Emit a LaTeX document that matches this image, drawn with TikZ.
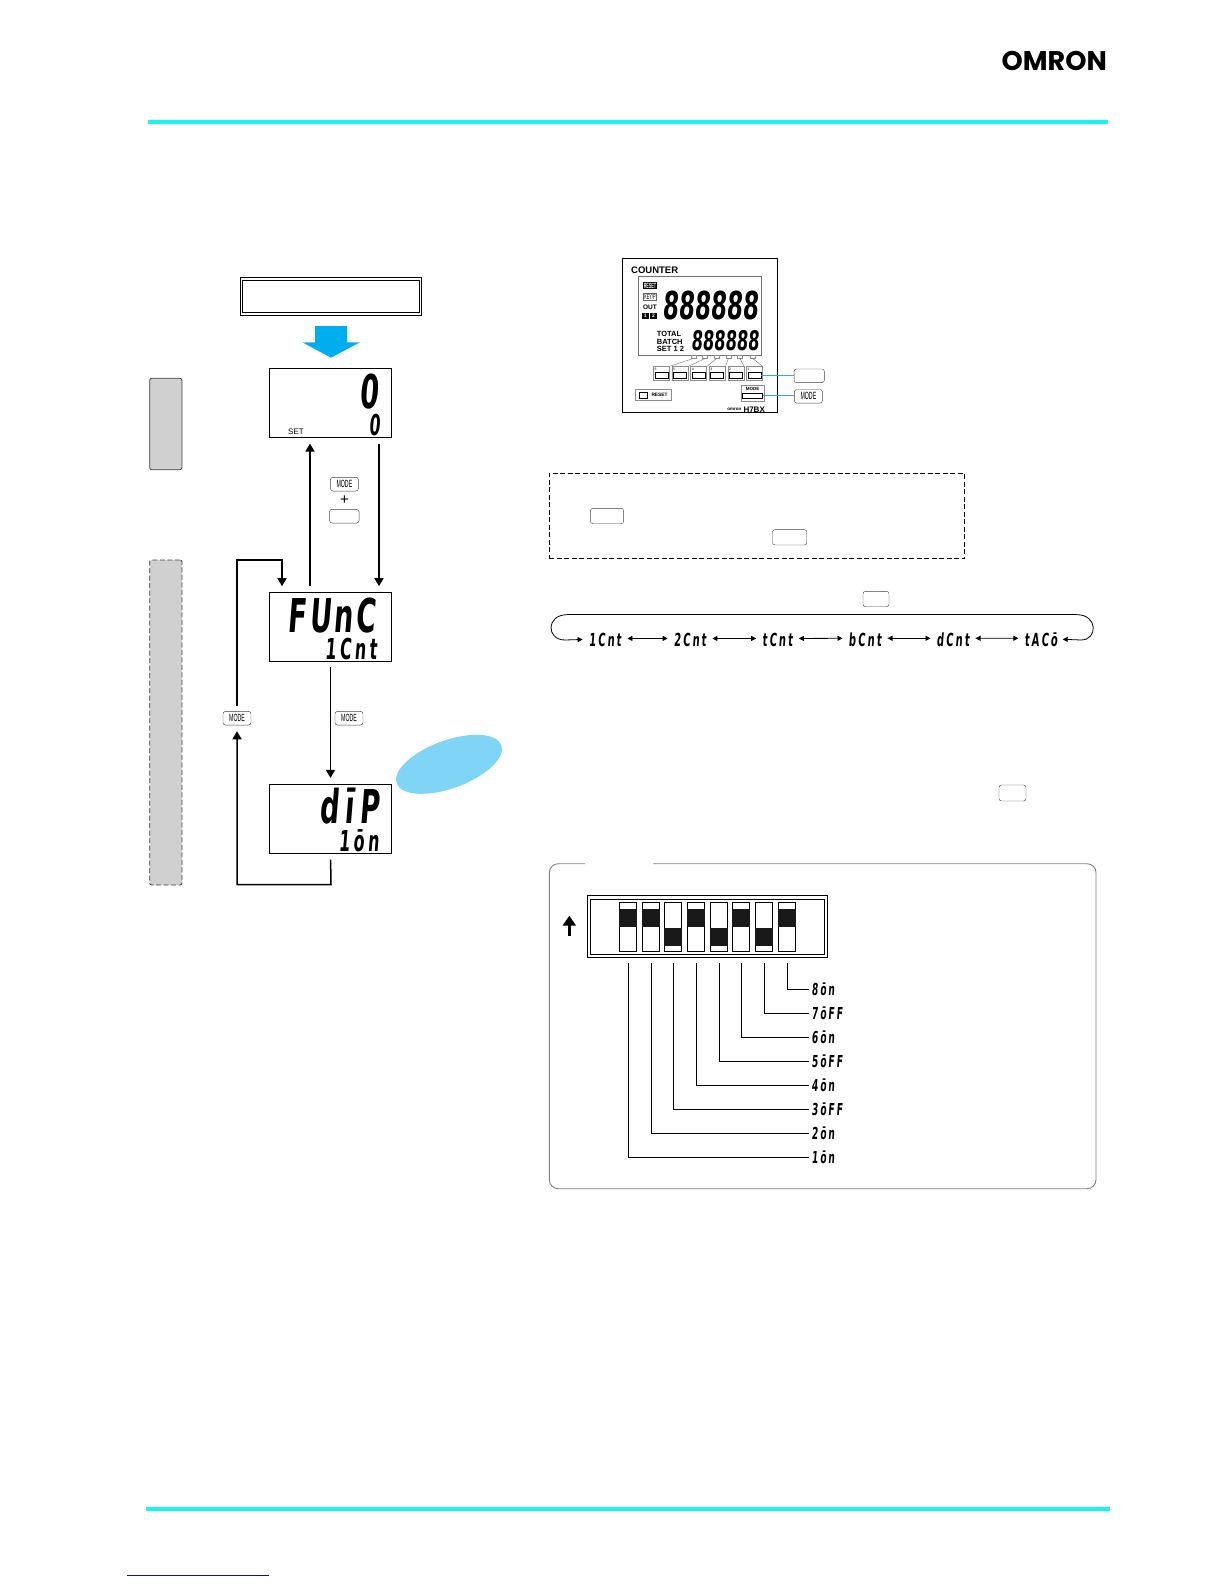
\documentclass[tikz,border=0pt]{standalone}
\usepackage{fontspec}
\setmainfont{Liberation Sans}
\newfontfamily\segfont[FakeStretch=0.55,FakeSlant=0.08,LetterSpace=12]{DejaVu Sans}
\newfontfamily\bigsegfont[FakeStretch=0.58,FakeSlant=0.08,LetterSpace=6]{DejaVu Sans}
\newfontfamily\digitfont[FakeStretch=0.6,FakeSlant=0.08]{DejaVu Sans}
\newfontfamily\keyfont[FakeStretch=0.5]{Liberation Sans}
\newfontfamily\logofont{Poppins}
\newcommand{\segsize}[1]{\segfont\bfseries\fontsize{#1}{#1}\selectfont}
\newcommand{\bigsegsize}[1]{\bigsegfont\bfseries\fontsize{#1}{#1}\selectfont}
\newcommand{\digitsize}[1]{\digitfont\bfseries\fontsize{#1}{#1}\selectfont}
\newcommand{\plainsize}[1]{\fontsize{#1}{#1}\selectfont}
\usetikzlibrary{arrows.meta,positioning,calc}
\definecolor{rulecyan}{HTML}{14F5F5}
\definecolor{arrowblue}{HTML}{00AEEF}
\definecolor{bubbleblue}{HTML}{80D4F6}
\definecolor{tabgrey}{HTML}{D0D0D0}
\definecolor{pointerteal}{HTML}{3FA9B5}
\definecolor{linknavy}{HTML}{10108A}
\tikzset{
  dispbox/.style={draw,line width=0.9pt,minimum width=122.4pt,minimum height=69.3pt,inner sep=0pt},
  segtext/.style={inner sep=0pt,anchor=base east},
  keycap/.style={draw=black!75,rounded corners=2.5pt,inner sep=0pt,minimum width=28pt,minimum height=13.7pt,font=\keyfont\plainsize{10.5}},
  flowline/.style={line width=1.5pt,line join=miter},
  flowarrow/.style={flowline,-{Triangle[length=8pt,width=9pt]}},
  sidetab/.style={draw=black!75,fill=tabgrey,rounded corners=2pt,line width=0.8pt,inner sep=0pt,minimum width=32.3pt},
  loopline/.style={line width=0.8pt,-{Triangle[length=5pt,width=5pt]}},
  twoway/.style={line width=0.8pt,{Triangle[length=5pt,width=5pt]}-{Triangle[length=5pt,width=5pt]}},
  lablseg/.style={inner sep=0pt,anchor=west,text height=12pt,text depth=0pt,font=\segsize{16.5}},
  leader/.style={line width=0.8pt,shorten >=3pt},
  dipcell/.style={draw,fill=white,line width=0.9pt,minimum width=17.3pt,minimum height=49.4pt,inner sep=0pt},
  dipknob/.style={fill=black!90,minimum width=17.3pt,minimum height=18pt,inner sep=0pt},
  panelkey/.style={draw=black!45,line width=0.6pt,minimum width=16pt,minimum height=14pt,inner sep=0pt},
  panelpad/.style={draw,line width=0.6pt,minimum width=13pt,minimum height=6pt,inner sep=0pt},
  paneltick/.style={draw=black!45,line width=0.4pt,minimum width=5pt,minimum height=3pt,inner sep=0pt},
  panellabel/.style={inner sep=0pt,font=\bfseries\plainsize{7.5},anchor=west},
  framebox/.style={draw,line width=0.9pt,inner sep=0pt}
}
\begin{document}
\begin{tikzpicture}[x=1pt,y=-1pt]
  \useasboundingbox (0,0) rectangle (1224,1584);
  \fill[rulecyan] (147.5,119.7) rectangle (1108,123.7);
  \fill[rulecyan] (146,1506.5) rectangle (1110,1511);
  \draw[linknavy,line width=0.9pt] (127,1575) -- (269,1575);
  \node[inner sep=0pt,anchor=base east,font=\logofont\bfseries\plainsize{27}] (logo) at (1107,70.7) {OMRON};

  \node[framebox,minimum width=181.4pt,minimum height=38pt] (startouter) at (331,296.3) {};
  \node[framebox,minimum width=176.4pt,minimum height=32.4pt] (startinner) at (331,296.3) {};
  \fill[arrowblue] (315,326) -- (347,326) -- (347,342.3) -- (360,342.3) -- (331,357.7) -- (302.3,342.3) -- (315,342.3) -- cycle;
  \node[sidetab,minimum height=91.4pt] (tabrun) at (165.8,424) {};
  \node[sidetab,dash pattern=on 5pt off 2.5pt,minimum height=325pt] (tabfunc) at (165.8,722.5) {};

  \node[dispbox] (dispset) at (330.5,403) {};
  \node[dispbox] (dispfunc) at (330.5,626.8) {};
  \node[dispbox] (dispdip) at (330.5,819) {};
  \node[segtext,font=\bigsegsize{46.6}] (bigzero) at (379,408.3) {0};
  \node[segtext,font=\segsize{28.8}] (smallzero) at (380,435.5) {0};
  \node[inner sep=0pt,anchor=west,font=\plainsize{8}] (settag) at (288,431.3) {SET};
  \node[segtext,font=\bigsegsize{46.6}] (funcword) at (376,632) {FUnC};
  \node[segtext,font=\segsize{28.8}] (funcsub) at (377,659) {1Cnt};
  \node[segtext,font=\bigsegsize{46.6}] (dipword) at (380,823.3) {d\kern6ptī\kern6ptP};
  \node[segtext,font=\segsize{28.8}] (dipsub) at (379,851) {1ōn};

  \node[keycap] (keyplus) at (344.4,484.2) {MODE};
  \node[inner sep=0pt,font=\plainsize{15}] (plustag) at (344.5,500) {+};
  \node[keycap,minimum width=29.5pt] (keyblank) at (344.3,516.2) {};
  \node[keycap] (keyloop) at (237,718.2) {MODE};
  \node[keycap] (keyright) at (349,718.2) {MODE};

  \coordinate (loopa) at (237,560);
  \coordinate (loopb) at (331,884.7);
  \draw[flowarrow,shorten <=5.5pt,shorten >=5.5pt] ([xshift=-20.5pt]dispfunc.north) -- ([xshift=-20.5pt]dispset.south);
  \draw[flowarrow,shorten <=5.5pt,shorten >=5.5pt] ([xshift=48.5pt]dispset.south) -- ([xshift=48.5pt]dispfunc.north);
  \draw[flowarrow,shorten <=5.5pt,shorten >=6pt] (dispfunc.south) -- (dispdip.north);
  \draw[flowarrow,shorten <=5.5pt,shorten >=5.5pt] (keyloop.north) -- (loopa) -| ([xshift=-48.5pt]dispfunc.north);
  \draw[flowarrow,shorten <=5.5pt,shorten >=6pt] (dispdip.south) -- (loopb) -| (keyloop.south);
  \fill[bubbleblue,rotate around={20:(449,764.3)}] (449,764.3) ellipse [x radius=55.7,y radius=24];

  \node[draw,line width=1.5pt,minimum width=154.6pt,minimum height=154pt,inner sep=0pt] (counterbody) at (700,335.7) {};
  \node[draw=black!55,line width=0.5pt,minimum width=123.4pt,minimum height=78.6pt,inner sep=0pt] (counterlcd) at (700,316) {};
  \node[panellabel,font=\bfseries\plainsize{9.5}] (countertag) at (631,270) {COUNTER};
  \node[fill=black,text=white,inner sep=0.8pt,font=\keyfont\bfseries\plainsize{7.5}] (resetflag) at (650,285.7) {RESET};
  \node[draw=black!60,line width=0.4pt,inner sep=0.8pt,font=\keyfont\plainsize{7.5}] (keyflag) at (650,297) {KEY/P};
  \node[inner sep=0pt,font=\bfseries\plainsize{6.5}] (outflag) at (650,307) {OUT};
  \node[fill=black,text=white,inner sep=0pt,minimum size=6.5pt,font=\bfseries\plainsize{5}] (outone) at (645.3,316) {1};
  \node[fill=black,text=white,inner sep=0pt,minimum size=6.5pt,font=\bfseries\plainsize{5}] (outtwo) at (653.5,316) {2};
  \node[inner sep=0pt,anchor=base east,font=\digitsize{38.4}] (bigrow) at (759,319) {888888};
  \node[inner sep=0pt,anchor=base east,font=\digitsize{27}] (smallrow) at (759,350.6) {888888};
  \node[panellabel] (totaltag) at (656.7,334.3) {TOTAL};
  \node[panellabel] (batchtag) at (656.7,341.7) {BATCH};
  \node[panellabel] (settagb) at (656.7,348.7) {SET 1 2};
  \foreach \n/\x/\t in {6/661.3/693.3,5/680/705,4/698.6/716.7,3/717.2/728.3,2/735.8/740,1/754.4/752.7} {
    \node[panelkey] (pk\n) at (\x,373.7) {};
    \node[panelpad] (pad\n) at (\x,375.3) {};
    \node[inner sep=0pt,font=\plainsize{3.5}] (pktag\n) at ($(pk\n.north west)+(2.5,2.5)$) {\n};
    \node[paneltick] (tick\n) at (\t,356.8) {};
    \draw[black!55,line width=0.4pt] (tick\n.south) -- (pk\n.north east);
  }
  \node[draw=black!45,line width=0.6pt,minimum width=23pt,minimum height=16pt,inner sep=0pt] (pkmode) at (752.5,393.7) {};
  \node[panelpad,minimum width=19.5pt,minimum height=5pt] (padmode) at (752.5,395.8) {};
  \node[inner sep=0pt,font=\bfseries\plainsize{4.5}] (pkmodetag) at (752.5,389.3) {MODE};
  \node[draw=black!45,line width=0.6pt,minimum width=36pt,minimum height=11.4pt,inner sep=0pt] (pkreset) at (653,395) {};
  \node[panelpad,minimum width=8.3pt,minimum height=6.3pt] (padreset) at (643.2,395.2) {};
  \node[inner sep=0pt,font=\bfseries\plainsize{4.8}] (pkresettag) at (659.5,395) {RESET};
  \node[inner sep=0pt,anchor=east,font=\bfseries\plainsize{4.5}] (brandtag) at (741.5,409.3) {omron};
  \node[inner sep=0pt,anchor=west,font=\bfseries\plainsize{8}] (modeltag) at (743.3,409.3) {H7BX};
  \node[keycap,minimum width=30.3pt] (callblank) at (809.2,375.8) {};
  \node[keycap] (callmode) at (808.4,396.3) {MODE};
  \draw[pointerteal,line width=0.8pt] (pad1.east) -- (pad1.east -| callblank.west);
  \draw[pointerteal,line width=0.8pt] (padmode.east) -- (padmode.east -| callmode.west);

  \node[draw,dash pattern=on 5pt off 2.5pt,line width=0.7pt,minimum width=415.3pt,minimum height=85.4pt,inner sep=0pt] (notebox) at (757,516) {};
  \node[keycap,minimum width=33.2pt,minimum height=15.4pt] (notekeya) at (607,516) {};
  \node[keycap,minimum width=34.3pt,minimum height=15.4pt] (notekeyb) at (789.6,537.3) {};
  \node[keycap,minimum width=26pt,minimum height=15.4pt] (cyclekey) at (876,599) {};
  \node[keycap,minimum width=27pt,minimum height=16pt] (dipkey) at (1012.5,793) {};

  \foreach \n/\x/\t in {a/605/1Cnt,b/690/2Cnt,c/777.5/tCnt,d/865/bCnt,e/953/dCnt,f/1041/tACō} {
    \node[inner sep=0pt,anchor=base,font=\segsize{18}] (mode\n) at (\x,646) {\t};
  }
  \foreach \p/\q in {a/b,b/c,c/d,d/e,e/f} {
    \draw[twoway] ($(mode\p.east)+(6,-1)$) -- ($(mode\q.west)+(-6,-1)$);
  }
  \coordinate (cycletopl) at (567,614.7);
  \coordinate (cycletopr) at (1077,614.7);
  \draw[line width=0.8pt] (cycletopl) -- (cycletopr);
  \draw[loopline] (cycletopl) .. controls (546,614.7) and (546,640) .. (565,640) -- ($(modea.west)+(-6,0)$ |- 0,640);
  \draw[loopline] (cycletopr) .. controls (1098,614.7) and (1098,640) .. (1081,640) -- ($(modef.east)+(5,0)$ |- 0,640);

  \draw[line width=0.9pt,draw=black!50,rounded corners=9pt] (653.3,863.7) -- (1096,863.7) -- (1096,1188.7) -- (549.3,1188.7) -- (549.3,863.7) -- (585,863.7);
  \node[framebox,minimum width=240pt,minimum height=61.6pt] (dipouter) at (707.3,926.5) {};
  \node[framebox,minimum width=234.4pt,minimum height=55.7pt] (dipinner) at (707.3,926.8) {};
  \draw[line width=2.6pt,-{Triangle[length=10pt,width=13pt]}] (569.3,935.7) -- (569.3,915.7);
  \foreach \n/\x/\k/\t/\y in {1/628/918/1ōn/1157.3,2/651/918/2ōn/1133.3,3/673/936.5/3ōFF/1109.3,4/696/918/4ōn/1085.3,5/719/936.5/5ōFF/1061.3,6/741/918/6ōn/1037.3,7/764/936.5/7ōFF/1013.3,8/787/918/8ōn/989.3} {
    \node[dipcell] (sw\n) at (\x,927) {};
    \node[dipknob] (knob\n) at (\x,\k) {};
    \node[lablseg] (lab\n) at (811.5,\y) {\t};
    \draw[leader] ([yshift=-11pt]sw\n.south) |- (lab\n.west);
  }
\end{tikzpicture}
\end{document}
